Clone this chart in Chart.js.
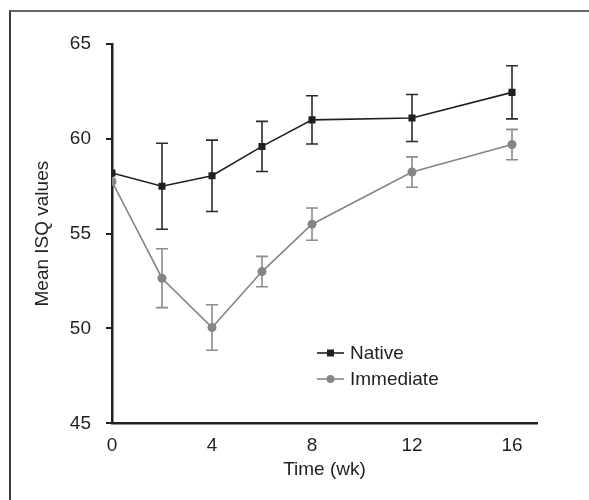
<!DOCTYPE html>
<html>
<head>
<meta charset="utf-8">
<script src="https://cdn.jsdelivr.net/npm/chart.js@4.4.1/dist/chart.umd.min.js"></script>
<style>
  html, body { margin: 0; padding: 0; background: #fff; overflow: hidden; }
  #wrap { position: relative; width: 589px; height: 500px; }
  #frame { position: absolute; left: 9px; top: 10px; width: 700px; height: 700px;
           border-top: 2px solid #666; border-left: 2px solid #3a3a3a; }
  canvas { position: absolute; left: 0; top: 0; }
</style>
</head>
<body>
<div id="wrap">
  <div id="frame"></div>
  <canvas id="c" width="589" height="500"></canvas>
</div>
<script>
// ---- data ----
const weeks = [0, 2, 4, 6, 8, 12, 16];
const nativeMean = [58.2, 57.5, 58.05, 59.6, 61.0, 61.1, 62.45];
const nativeErr = [0, 2.27, 1.88, 1.32, 1.27, 1.24, 1.4];
const immediateMean = [57.75, 52.65, 50.05, 53.0, 55.5, 58.25, 59.7];
const immediateErr = [0, 1.55, 1.2, 0.8, 0.85, 0.8, 0.8];
const seriesLabels = ['Native', 'Immediate'];
const xTicks = [0, 4, 8, 12, 16];
const yTicks = [45, 50, 55, 60, 65];

const FONT = "'Liberation Sans', Arial, sans-serif";
const FS = 19;
const DARK = '#231f20';
const GREY = '#858585';

const toXY = (xs, ys) => xs.map((x, i) => ({ x: x, y: ys[i] }));

const errorBars = {
  id: 'errorBars',
  beforeDatasetsDraw(chart) {
    const ctx = chart.ctx;
    const ys = chart.scales.y;
    chart.data.datasets.forEach((ds, di) => {
      const meta = chart.getDatasetMeta(di);
      ctx.save();
      ctx.strokeStyle = ds.errColor;
      ctx.lineWidth = 1.6;
      meta.data.forEach((pt, i) => {
        const e = ds.errors[i];
        if (!e) return;
        const v = ds.data[i].y;
        const yt = ys.getPixelForValue(v + e);
        const yb = ys.getPixelForValue(v - e);
        const x = pt.x;
        ctx.beginPath();
        ctx.moveTo(x, yt); ctx.lineTo(x, yb);
        ctx.moveTo(x - 6, yt); ctx.lineTo(x + 6, yt);
        ctx.moveTo(x - 6, yb); ctx.lineTo(x + 6, yb);
        ctx.stroke();
      });
      ctx.restore();
    });
  }
};

const insideLegend = {
  id: 'insideLegend',
  afterDraw(chart, args, opts) {
    const ctx = chart.ctx;
    chart.data.datasets.forEach((ds, i) => {
      const y = opts.y + i * opts.gap;
      ctx.save();
      ctx.strokeStyle = ds.borderColor;
      ctx.lineWidth = 1.6;
      ctx.beginPath();
      ctx.moveTo(opts.x, y); ctx.lineTo(opts.x + 27, y);
      ctx.stroke();
      ctx.fillStyle = ds.pointBackgroundColor;
      if (ds.pointStyle === 'rect') {
        ctx.fillRect(opts.x + 13.5 - 3.5, y - 3.5, 7, 7);
      } else {
        ctx.beginPath();
        ctx.arc(opts.x + 13.5, y, 4, 0, Math.PI * 2);
        ctx.fill();
      }
      ctx.fillStyle = '#231f20';
      ctx.font = FS + 'px ' + FONT;
      ctx.textBaseline = 'middle';
      ctx.fillText(ds.label, opts.x + 33, y + 1);
      ctx.restore();
    });
  }
};

new Chart(document.getElementById('c'), {
  type: 'line',
  data: {
    datasets: [
      {
        label: seriesLabels[0],
        data: toXY(weeks, nativeMean),
        errors: nativeErr,
        errColor: '#2b2b2b',
        borderColor: DARK,
        borderWidth: 1.6,
        pointStyle: 'rect',
        pointRadius: 5,
        pointBackgroundColor: DARK,
        pointBorderColor: DARK,
        pointBorderWidth: 0,
        tension: 0
      },
      {
        label: seriesLabels[1],
        data: toXY(weeks, immediateMean),
        errors: immediateErr,
        errColor: '#8c8c8c',
        borderColor: GREY,
        borderWidth: 1.6,
        pointStyle: 'circle',
        pointRadius: 4.5,
        pointBackgroundColor: GREY,
        pointBorderColor: GREY,
        pointBorderWidth: 0,
        tension: 0
      }
    ]
  },
  options: {
    responsive: false,
    animation: false,
    events: [],
    layout: { padding: { left: 20, right: 52, top: 44, bottom: 0 } },
    plugins: {
      legend: { display: false },
      tooltip: { enabled: false },
      insideLegend: { x: 317, y: 353, gap: 26 }
    },
    scales: {
      x: {
        type: 'linear',
        min: 0,
        max: 17,
        afterBuildTicks(scale) { scale.ticks = xTicks.map(v => ({ value: v })); },
        afterFit(scale) { scale.height = 76.7; },
        grid: { display: false },
        border: { display: true, color: DARK, width: 2.5 },
        ticks: { color: '#231f20', font: { family: FONT, size: FS }, padding: 3, maxRotation: 0 },
        title: { display: true, text: 'Time (wk)', color: '#231f20', font: { family: FONT, size: FS }, padding: { top: 0, bottom: 19 } }
      },
      y: {
        min: 45,
        max: 65,
        afterBuildTicks(scale) { scale.ticks = yTicks.map(v => ({ value: v })); },
        afterFit(scale) { scale.width = 92; },
        grid: { drawOnChartArea: false, drawTicks: true, tickLength: 6, color: DARK, lineWidth: 2 },
        border: { display: true, color: DARK, width: 2.5 },
        ticks: { color: '#231f20', font: { family: FONT, size: FS }, padding: 15 },
        title: { display: true, text: 'Mean ISQ values', color: '#231f20', font: { family: FONT, size: FS }, padding: { top: 11, bottom: 0 } }
      }
    }
  },
  plugins: [errorBars, insideLegend]
});
</script>
</body>
</html>
